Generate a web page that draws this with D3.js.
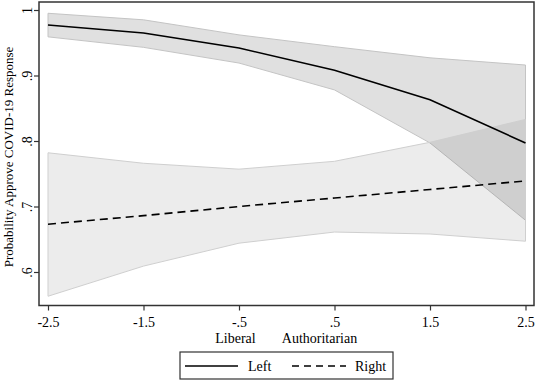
<!DOCTYPE html>
<html>
<head>
<meta charset="utf-8">
<script src="https://cdn.jsdelivr.net/npm/d3@7"></script>
<style>
  body { margin: 0; background: #fff; }
  svg text { font-family: "Liberation Serif", "Times New Roman", Times, "DejaVu Serif", serif !important; fill: #000; }
</style>
</head>
<body>
<script>
// values
let xValues = [-2.5, -1.5, -0.5, 0.5, 1.5, 2.5];
let leftFit = [0.977, 0.965, 0.942, 0.908, 0.863, 0.797];
let leftUpper = [0.995, 0.985, 0.962, 0.944, 0.927, 0.916];
let leftLower = [0.959, 0.943, 0.919, 0.878, 0.797, 0.679];
let rightFit = [0.673, 0.686, 0.700, 0.713, 0.726, 0.739];
let rightUpper = [0.782, 0.766, 0.757, 0.769, 0.798, 0.833];
let rightLower = [0.563, 0.609, 0.644, 0.661, 0.658, 0.647];
let xTicks = [-2.5, -1.5, -0.5, 0.5, 1.5, 2.5];
let xTickLabels = ["-2.5", "-1.5", "-.5", ".5", "1.5", "2.5"];
let yTicks = [0.6, 0.7, 0.8, 0.9, 1];
let yTickLabels = [".6", ".7", ".8", ".9", "1"];

function main() {
    let svg = d3.select("body").append("svg")
        .attr("width", 536)
        .attr("height", 380);

    let xScale = d3.scaleLinear().domain([-2.5, 2.5]).range([48, 525.5]);
    let yScale = d3.scaleLinear().domain([0.6, 1]).range([272, 10]);

    let band = function(lo, hi) {
        return d3.area()
            .x(function(d, i) { return xScale(xValues[i]); })
            .y0(function(d, i) { return yScale(lo[i]); })
            .y1(function(d, i) { return yScale(hi[i]); })(xValues);
    };
    let line = function(vals) {
        return d3.line()
            .x(function(d, i) { return xScale(xValues[i]); })
            .y(function(d, i) { return yScale(vals[i]); })(xValues);
    };

    // confidence bands
    svg.append("path")
        .attr("d", band(leftLower, leftUpper))
        .attr("fill", "#000").attr("fill-opacity", 0.12)
        .attr("stroke", "#c4c4c4").attr("stroke-width", 1);
    svg.append("path")
        .attr("d", band(rightLower, rightUpper))
        .attr("fill", "#000").attr("fill-opacity", 0.075)
        .attr("stroke", "#cfcfcf").attr("stroke-width", 1);

    // fitted lines
    svg.append("path")
        .attr("d", line(leftFit))
        .attr("fill", "none").attr("stroke", "#000").attr("stroke-width", 1.6);
    svg.append("path")
        .attr("d", line(rightFit))
        .attr("fill", "none").attr("stroke", "#000").attr("stroke-width", 1.6)
        .attr("stroke-dasharray", "8,5");

    // plot frame
    svg.append("rect")
        .attr("x", 39).attr("y", 2)
        .attr("width", 495).attr("height", 303.5)
        .attr("fill", "none").attr("stroke", "#333").attr("stroke-width", 1.5);

    // x axis
    let xAxis = svg.append("g")
        .attr("transform", "translate(0,305.5)")
        .call(d3.axisBottom(xScale).tickValues(xTicks)
            .tickFormat(function(d, i) { return xTickLabels[i]; })
            .tickSize(5).tickPadding(7));
    xAxis.select(".domain").remove();
    xAxis.selectAll("line").attr("stroke", "#333").attr("stroke-width", 1.2);
    xAxis.selectAll("text").attr("font-size", 14).attr("fill", "#000");

    svg.append("text").attr("x", 235.5).attr("y", 343)
        .attr("text-anchor", "middle").attr("font-size", 14).text("Liberal");
    svg.append("text").attr("x", 319.5).attr("y", 343)
        .attr("text-anchor", "middle").attr("font-size", 14).text("Authoritarian");

    // y axis
    let yAxis = svg.append("g")
        .attr("transform", "translate(39,0)")
        .call(d3.axisLeft(yScale).tickValues(yTicks)
            .tickFormat(function(d, i) { return yTickLabels[i]; })
            .tickSize(5));
    yAxis.select(".domain").remove();
    yAxis.selectAll("line").attr("stroke", "#333").attr("stroke-width", 1.2);
    yAxis.selectAll("text")
        .attr("font-size", 14).attr("fill", "#000")
        .attr("x", null).attr("dy", null)
        .attr("text-anchor", "middle")
        .attr("transform", "translate(-7,0) rotate(-90)");

    svg.append("text")
        .attr("transform", "translate(12.5,157) rotate(-90)")
        .attr("text-anchor", "middle").attr("font-size", 13)
        .text("Probability Approve COVID-19 Response");

    // legend
    let lg = svg.append("g");
    lg.append("rect")
        .attr("x", 180).attr("y", 352).attr("width", 213).attr("height", 27)
        .attr("fill", "#fff").attr("stroke", "#333").attr("stroke-width", 1.2);
    lg.append("line").attr("x1", 185).attr("x2", 238).attr("y1", 366).attr("y2", 366)
        .attr("stroke", "#000").attr("stroke-width", 1.6);
    lg.append("text").attr("x", 248).attr("y", 371).attr("font-size", 14).text("Left");
    lg.append("line").attr("x1", 292).attr("x2", 346).attr("y1", 366).attr("y2", 366)
        .attr("stroke", "#000").attr("stroke-width", 1.6).attr("stroke-dasharray", "7,5");
    lg.append("text").attr("x", 355).attr("y", 371).attr("font-size", 14).text("Right");
}

main();
</script>
</body>
</html>
